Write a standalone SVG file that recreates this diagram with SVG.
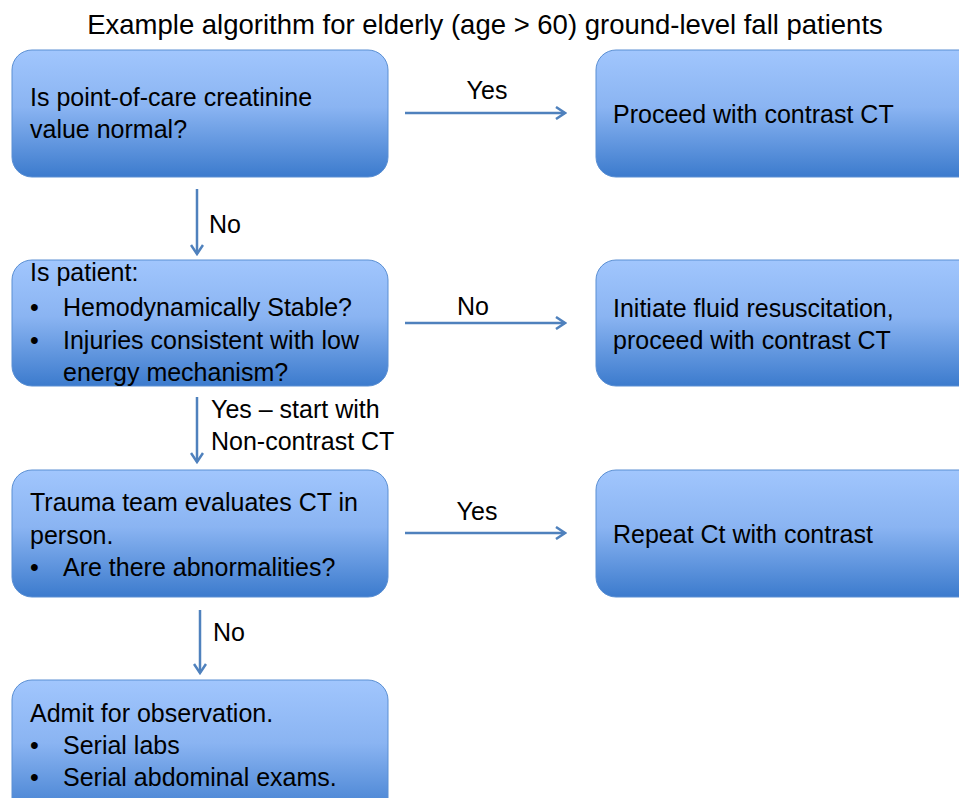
<svg xmlns="http://www.w3.org/2000/svg" width="959" height="798" viewBox="0 0 959 798">
<defs>
<linearGradient id="g" x1="0" y1="0" x2="0" y2="1">
<stop offset="0" stop-color="#a1c6fd"/>
<stop offset="0.45" stop-color="#8ab4f2"/>
<stop offset="1" stop-color="#3c7bcd"/>
</linearGradient>
<marker id="ah" viewBox="0 0 12 14" refX="10" refY="7" markerWidth="12" markerHeight="14" markerUnits="userSpaceOnUse" orient="auto">
<path d="M1,1 L10,7 L1,13" fill="none" stroke="#4f81bd" stroke-width="2.5"/>
</marker>
</defs>
<style>
.box{fill:url(#g);stroke:#5a8fd3;stroke-width:1}
text{font-family:"Liberation Sans",Arial,sans-serif;font-size:25px;fill:#000}
.title{font-size:27.5px}
.conn line{stroke:#4f81bd;stroke-width:2.5;marker-end:url(#ah)}
</style>
<rect width="959" height="798" fill="#fff"/>
<text class="title" x="485" y="34" text-anchor="middle">Example algorithm for elderly (age &gt; 60) ground-level fall patients</text>
<g id="n1"><rect class="box" x="12" y="50" width="376" height="127" rx="20"/>
<text x="30" y="106">Is point-of-care creatinine</text>
<text x="30" y="138">value normal?</text></g>
<g id="n2"><rect class="box" x="596" y="50" width="390" height="127" rx="20"/>
<text x="613" y="123">Proceed with contrast CT</text></g>
<g id="n3"><rect class="box" x="12" y="260" width="376" height="126" rx="20"/>
<text x="30" y="281">Is patient:</text>
<text x="30" y="316">•</text><text x="63" y="316">Hemodynamically Stable?</text>
<text x="30" y="349">•</text><text x="63" y="349">Injuries consistent with low</text>
<text x="63" y="381">energy mechanism?</text></g>
<g id="n4"><rect class="box" x="596" y="260" width="390" height="126" rx="20"/>
<text x="613" y="317">Initiate fluid resuscitation,</text>
<text x="613" y="349">proceed with contrast CT</text></g>
<g id="n5"><rect class="box" x="12" y="470" width="376" height="127" rx="20"/>
<text x="30" y="511">Trauma team evaluates CT in</text>
<text x="30" y="544">person.</text>
<text x="30" y="576">•</text><text x="63" y="576">Are there abnormalities?</text></g>
<g id="n6"><rect class="box" x="596" y="470" width="390" height="127" rx="20"/>
<text x="613" y="543">Repeat Ct with contrast</text></g>
<g id="n7"><rect class="box" x="12" y="680" width="376" height="140" rx="20"/>
<text x="30" y="722">Admit for observation.</text>
<text x="30" y="754">•</text><text x="63" y="754">Serial labs</text>
<text x="30" y="786">•</text><text x="63" y="786">Serial abdominal exams.</text></g>
<g class="conn">
<line x1="405" y1="113" x2="565" y2="113"/>
<line x1="405" y1="323" x2="565" y2="323"/>
<line x1="405" y1="533" x2="565" y2="533"/>
<line x1="197" y1="189" x2="197" y2="254"/>
<line x1="197" y1="397" x2="197" y2="462"/>
<line x1="200" y1="610" x2="200" y2="673"/>
</g>
<g id="labels">
<text x="487" y="99" text-anchor="middle">Yes</text>
<text x="473" y="315" text-anchor="middle">No</text>
<text x="477" y="520" text-anchor="middle">Yes</text>
<text x="209" y="233">No</text>
<text x="211" y="418">Yes – start with</text>
<text x="211" y="450">Non-contrast CT</text>
<text x="213" y="641">No</text>
</g>
</svg>
